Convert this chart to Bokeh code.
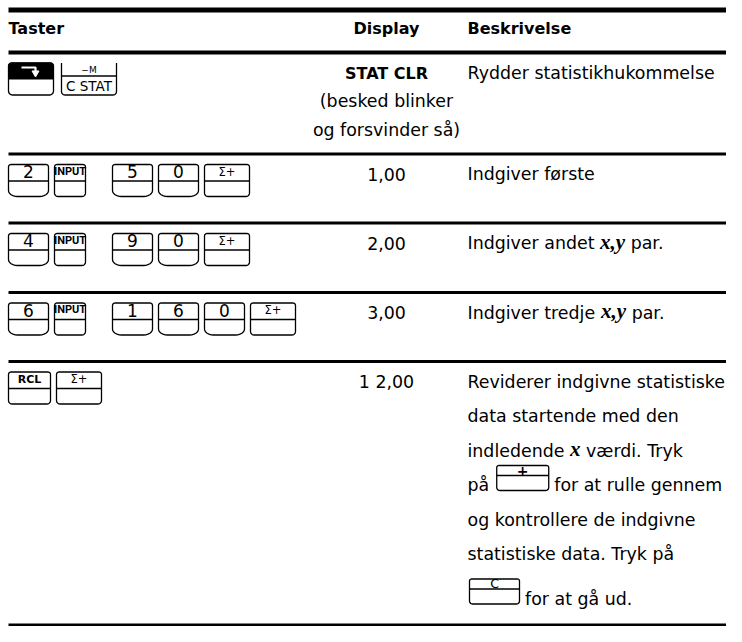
import numpy as np
from bokeh.plotting import figure
from bokeh.models import Range1d
from bokeh.core.properties import value
from bokeh.embed import file_html
from bokeh.resources import INLINE

# ------------------------------------------------------------------ data
headers = ["Taster", "Display", "Beskrivelse"]

# key sequence typed in each row: (key kind, key label)
row_keys = [
    [("shift", ""), ("cstat", "C STAT")],
    [("num", "2"), ("input", "INPUT"), ("num", "5"), ("num", "0"), ("fn", "Σ+")],
    [("num", "4"), ("input", "INPUT"), ("num", "9"), ("num", "0"), ("fn", "Σ+")],
    [("num", "6"), ("input", "INPUT"), ("num", "1"), ("num", "6"), ("num", "0"), ("fn", "Σ+")],
    [("fn", "RCL"), ("fn", "Σ+")],
]
cstat_shift_label = "−M"

# display column: (weight, text) per line
display_lines = [
    [("bold", "STAT CLR"), ("normal", "(besked blinker"), ("normal", "og forsvinder så)")],
    [("normal", "1,00")],
    [("normal", "2,00")],
    [("normal", "3,00")],
    [("normal", "1 2,00")],
]

# description column: lines made of segments ("t" text, "v" variable, "k" key)
desc_lines = [
    [[("t", "Rydder statistikhukommelse")]],
    [[("t", "Indgiver første")]],
    [[("t", "Indgiver andet "), ("v", "x,y"), ("t", " par.")]],
    [[("t", "Indgiver tredje "), ("v", "x,y"), ("t", " par.")]],
    [[("t", "Reviderer indgivne statistiske")],
     [("t", "data startende med den")],
     [("t", "indledende "), ("v", "x"), ("t", " værdi. Tryk")],
     [("t", "på "), ("k", "+"), ("t", " for at rulle gennem")],
     [("t", "og kontrollere de indgivne")],
     [("t", "statistiske data. Tryk på")],
     [("k", "C"), ("t", " for at gå ud.")]],
]

# ------------------------------------------------------------------ layout / style
FONT = "DejaVu Sans"
SERIF = "Liberation Serif"
BODY = 17.4
X_LEFT, X_RIGHT = 8, 742
COL_DISPLAY = 386
COL_DESC = 467
HEADER_BASE = 34
ROW_BOTTOMS = [153.5, 222.5, 292, 361, 624.5]
FIRST_BASE = 26.5
DISP_LINE = 28.5
DESC_LINE = 34.5
KEY_H = 32
DIV = 16.5
MID = 0.37          # baseline -> middle offset, in em

KEY_W = {"num": 40, "input": 31, "shift": 45, "cstat": 55}
FN_W = {"Σ+": 45, "RCL": 42}
KEY_GAP = {"input": 27, "shift": 8}

# DejaVu Sans advance widths (units of 2048)
ADV = {" ": 651, "I": 604, "a": 1255, "b": 1300, "c": 1126, "d": 1300, "e": 1260,
       "f": 721, "g": 1300, "h": 1298, "i": 569, "j": 569, "k": 1186, "l": 569,
       "m": 1995, "n": 1298, "o": 1253, "p": 1300, "r": 842, "s": 1067, "t": 803,
       "u": 1298, "v": 1212, "x": 1212, "y": 1212, "å": 1255, "æ": 2010, "ø": 1253,
       ".": 651, ",": 651}
SERIF_BI = {"x": 0.5, ",": 0.25, "y": 0.444}
VAR_SIZE = 21


def text_w(s, size=BODY):
    return sum(ADV.get(c, 1250) for c in s) / 2048.0 * size


def serif_w(s, size=VAR_SIZE):
    return sum(SERIF_BI.get(c, 0.5) for c in s) * size


p = figure(width=726, height=626, x_range=Range1d(0, 726), y_range=Range1d(626, 0),
           output_backend="svg", toolbar_location=None,
           x_axis_type=None, y_axis_type=None, min_border=0)
p.outline_line_color = None
p.background_fill_color = "white"
p.border_fill_color = "white"

outlines_x, outlines_y = [], []


def txt(x, y, s, size=BODY, font=FONT, style="normal", align="left", color="black"):
    """y is the alphabetic baseline; drawn with a middle baseline."""
    p.text(x=[x], y=[y - MID * size], text=[s], text_font=value(font),
           text_font_size=f"{size}px", text_font_style=style, text_align=align,
           text_baseline="middle", text_color=color)


def arc(cx, cy, rx, ry, a0, a1, n=7):
    t = np.radians(np.linspace(a0, a1, n))
    return list(cx + rx * np.cos(t)), list(cy + ry * np.sin(t))


def rr(x0, y0, x1, y1, rt, rbx, rby):
    xs, ys = [], []
    for (cx, cy, rx, ry, a0, a1) in [(x0 + rt, y0 + rt, rt, rt, 180, 270),
                                     (x1 - rt, y0 + rt, rt, rt, 270, 360),
                                     (x1 - rbx, y1 - rby, rbx, rby, 0, 90),
                                     (x0 + rbx, y1 - rby, rbx, rby, 90, 180)]:
        ax, ay = arc(cx, cy, rx, ry, a0, a1)
        xs += ax
        ys += ay
    xs.append(xs[0])
    ys.append(ys[0])
    return xs, ys


def add_outline(xs, ys):
    outlines_x.append(xs)
    outlines_y.append(ys)


def key_width(kind, label):
    if kind == "fn":
        return FN_W.get(label, 44)
    return KEY_W[kind]


def draw_key(kind, label, x0, y0):
    w = key_width(kind, label)
    x1, y1 = x0 + w, y0 + KEY_H
    xc = (x0 + x1) / 2
    if kind == "num":
        add_outline(*rr(x0, y0, x1, y1, 2.5, 9, 6))
        add_outline([x0, x1], [y0 + DIV, y0 + DIV])
        txt(xc, y0 + DIV - 3, label, size=17, align="center")
    elif kind in ("fn", "input"):
        add_outline(*rr(x0, y0, x1, y1, 2.5, 3.5, 3.5))
        add_outline([x0, x1], [y0 + DIV, y0 + DIV])
        if kind == "input":
            txt(xc, y0 + 11, label, size=11, font="Roboto", style="bold", align="center")
        elif label == "RCL":
            txt(xc, y0 + 11.5, label, size=11, style="bold", align="center")
        else:
            txt(xc, y0 + 11.5, label, size=11.5, align="center")
    elif kind == "shift":
        tx, ty = arc(x0 + 3, y0 + 3, 3, 3, 180, 270)
        tx2, ty2 = arc(x1 - 3, y0 + 3, 3, 3, 270, 360)
        p.patches(xs=[tx + tx2 + [x1, x0]], ys=[ty + ty2 + [y0 + 16, y0 + 16]],
                  fill_color="black", line_color="black", line_width=1)
        add_outline(*rr(x0, y0, x1, y1, 3, 4, 4))
        p.line(x=[x0 + 13, x0 + 27, x0 + 27], y=[y0 + 4.5, y0 + 4.5, y0 + 8],
               line_color="white", line_width=2.2)
        p.scatter(x=[x0 + 27], y=[y0 + 10], marker="inverted_triangle", size=7,
                  fill_color="white", line_color="white")
    elif kind == "cstat":
        r = 3.5
        bx, by = arc(x0 + r, y1 - r, r, r, 180, 90)
        bx2, by2 = arc(x1 - r, y1 - r, r, r, 90, 0)
        add_outline([x0] + bx + bx2 + [x1], [y0] + by + by2 + [y0])
        add_outline([x0, x1], [y0 + 13, y0 + 13])
        txt(xc, y0 + 10, cstat_shift_label, size=9, align="center")
        txt(xc, y1 - 4, label, size=13.5, align="center")


def draw_inline_key(label, x0, base):
    w = 52 if label == "+" else 50
    h = 25
    y1 = base - 1
    y0 = y1 - h
    add_outline(*rr(x0, y0, x0 + w, y1, 2, 3, 3))
    add_outline([x0, x0 + w], [y0 + 10, y0 + 10])
    if label == "+":
        txt(x0 + w / 2, y0 + 10.5, label, size=14, style="bold", align="center")
    else:
        txt(x0 + w / 2, y0 + 9, label, size=12.5, align="center")
    return x0 + w


def seg_text(x, y, s):
    """draw a text segment, advancing over leading/trailing spaces explicitly"""
    lead = len(s) - len(s.lstrip(" "))
    x += text_w(" " * lead)
    core = s.strip(" ")
    txt(x, y, core)
    return x + text_w(s[lead:])


# ------------------------------------------------------------------ rules
p.segment(x0=[X_LEFT], x1=[X_RIGHT], y0=[9.5], y1=[9.5], line_width=5, line_color="black")
p.segment(x0=[X_LEFT], x1=[X_RIGHT], y0=[52], y1=[52], line_width=4, line_color="black")
p.segment(x0=[X_LEFT] * len(ROW_BOTTOMS), x1=[X_RIGHT] * len(ROW_BOTTOMS),
          y0=ROW_BOTTOMS, y1=ROW_BOTTOMS, line_width=3, line_color="black")

# ------------------------------------------------------------------ header
txt(X_LEFT, HEADER_BASE, headers[0], size=16, style="bold")
txt(COL_DISPLAY, HEADER_BASE, headers[1], size=16, style="bold", align="center")
txt(COL_DESC, HEADER_BASE, headers[2], size=16, style="bold")

# ------------------------------------------------------------------ rows
row_tops = [52] + ROW_BOTTOMS[:-1]
for r in range(len(row_keys)):
    base = row_tops[r] + FIRST_BASE
    # keys
    kx = X_LEFT
    for kind, label in row_keys[r]:
        draw_key(kind, label, kx, base - 16)
        kx += key_width(kind, label) + KEY_GAP.get(kind, 6)
    # display
    for i, (wt, s) in enumerate(display_lines[r]):
        txt(COL_DISPLAY, base + i * DISP_LINE, s, size=16 if wt == "bold" else BODY,
            style=wt, align="center")
    # description
    y = base
    for i, line in enumerate(desc_lines[r]):
        if i > 0:
            y += DESC_LINE + (10 if line[0][0] == "k" else 0)
        x = COL_DESC
        for kind, s in line:
            if kind == "t":
                x = seg_text(x, y, s)
            elif kind == "v":
                txt(x, y, s, size=VAR_SIZE, font=SERIF, style="bold italic")
                x += serif_w(s)
            else:
                x = draw_inline_key(s, x + 2, y)

p.multi_line(xs=outlines_x, ys=outlines_y, line_color="black", line_width=1.3)

open("out.html", "w").write(file_html(p, INLINE))
